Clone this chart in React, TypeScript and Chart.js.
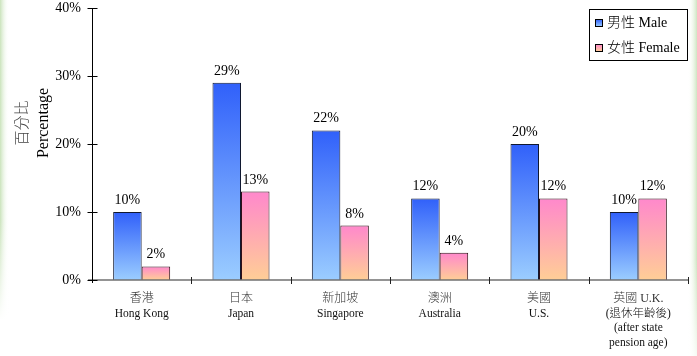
import React, { useEffect, useRef } from "react";
import { Chart, registerables } from "chart.js";

Chart.register(...registerables);

// Category labels: Chinese name first, then English lines
const categoryLabels: string[][] = [
  ["香港", "Hong Kong"],
  ["日本", "Japan"],
  ["新加坡", "Singapore"],
  ["澳洲", "Australia"],
  ["美國", "U.S."],
  ["英國 U.K.", "(退休年齡後)", "(after state", "pension age)"],
];
const maleValues = [10, 29, 22, 12, 20, 10];
const femaleValues = [2, 13, 8, 4, 12, 12];
const yTickValues = [0, 10, 20, 30, 40];
const seriesNames = ["男性 Male", "女性 Female"];
const yTitleZh = "百分比";
const yTitleEn = "Percentage";

const FONT = "'Liberation Serif', 'Times New Roman', 'Noto Sans CJK TC', serif";
const CJK = "'Noto Sans CJK TC', 'Noto Sans CJK SC', sans-serif";

const BLUE_TOP = "rgb(48,96,250)";
const BLUE_BOTTOM = "rgb(155,205,255)";
const PINK_TOP = "rgb(255,136,204)";
const PINK_BOTTOM = "rgb(255,206,150)";

function barGradient(top: string, bottom: string) {
  return (ctx: any) => {
    const chart = ctx.chart;
    const ys = chart.scales?.y;
    if (!chart.chartArea || !ys || ctx.type !== "data") return top;
    const y0 = ys.getPixelForValue(ctx.raw);
    const y1 = ys.getPixelForValue(0);
    const g = chart.ctx.createLinearGradient(0, y0, 0, y1 + 0.01);
    g.addColorStop(0, top);
    g.addColorStop(1, bottom);
    return g;
  };
}

// Page background with soft green edges
const backgroundPlugin = {
  id: "pageBackground",
  beforeDraw(chart: any) {
    const { ctx, width, height } = chart;
    ctx.save();
    ctx.fillStyle = "#ffffff";
    ctx.fillRect(0, 0, width, height);
    const left = ctx.createLinearGradient(0, 0, 9, 0);
    left.addColorStop(0, "rgba(196,224,180,0.9)");
    left.addColorStop(1, "rgba(255,255,255,0)");
    ctx.fillStyle = left;
    ctx.fillRect(0, 0, 9, height);
    const right = ctx.createLinearGradient(width, 0, width - 9, 0);
    right.addColorStop(0, "rgba(200,226,186,0.9)");
    right.addColorStop(1, "rgba(255,255,255,0)");
    ctx.fillStyle = right;
    ctx.fillRect(width - 9, 0, 9, height);
    const fadeL = ctx.createLinearGradient(0, 220, 0, 320);
    fadeL.addColorStop(0, "rgba(255,255,255,0)");
    fadeL.addColorStop(1, "rgba(255,255,255,1)");
    ctx.fillStyle = fadeL;
    ctx.fillRect(0, 220, 9, height - 220);
    const fadeR = ctx.createLinearGradient(0, 260, 0, 356);
    fadeR.addColorStop(0, "rgba(255,255,255,0)");
    fadeR.addColorStop(1, "rgba(255,255,255,0.8)");
    ctx.fillStyle = fadeR;
    ctx.fillRect(width - 9, 260, 9, height - 260);
    ctx.restore();
  },
};

// Axis lines, crossing tick marks, category labels, value labels, titles and legend
const decorPlugin = {
  id: "decor",
  afterDraw(chart: any) {
    const { ctx, chartArea: a } = chart;
    const xs = chart.scales.x;
    const ys = chart.scales.y;
    ctx.save();

    // x axis
    ctx.strokeStyle = "#707070";
    ctx.lineWidth = 1.5;
    ctx.beginPath();
    ctx.moveTo(a.left - 4, a.bottom);
    ctx.lineTo(a.right, a.bottom);
    ctx.stroke();
    ctx.strokeStyle = "#222";
    ctx.lineWidth = 1;
    for (let i = 1; i <= categoryLabels.length; i++) {
      const x = Math.round(xs.getPixelForValue(i - 0.5)) + 0.5;
      ctx.beginPath();
      ctx.moveTo(x, a.bottom - 3);
      ctx.lineTo(x, a.bottom + 4);
      ctx.stroke();
    }

    // y axis
    ctx.strokeStyle = "#000";
    ctx.lineWidth = 1;
    const ax = Math.round(a.left) + 0.5;
    ctx.beginPath();
    ctx.moveTo(ax, a.top);
    ctx.lineTo(ax, a.bottom + 3);
    ctx.stroke();
    for (const v of yTickValues) {
      const y = Math.round(ys.getPixelForValue(v)) + 0.5;
      ctx.beginPath();
      ctx.moveTo(ax - 5, y);
      ctx.lineTo(ax + 5, y);
      ctx.stroke();
    }

    // category labels
    ctx.textAlign = "center";
    ctx.textBaseline = "middle";
    categoryLabels.forEach((lines, i) => {
      const x = xs.getPixelForValue(i);
      lines.forEach((line, j) => {
        ctx.font = j === 0 ? `300 12px ${FONT}` : `300 11.5px ${FONT}`;
        ctx.fillStyle = j === 0 ? "#333" : "#111";
        ctx.fillText(line, x, a.bottom + 19 + j * 14.7);
      });
    });

    // value labels
    ctx.font = `14px ${FONT}`;
    ctx.fillStyle = "#000";
    ctx.textBaseline = "alphabetic";
    chart.data.datasets.forEach((ds: any, di: number) => {
      const meta = chart.getDatasetMeta(di);
      meta.data.forEach((bar: any, i: number) => {
        ctx.fillText(`${ds.data[i]}%`, bar.x, bar.y - 8);
      });
    });

    // y axis title (two rotated lines)
    ctx.save();
    ctx.translate(21, 123);
    ctx.rotate(-Math.PI / 2);
    ctx.textBaseline = "middle";
    ctx.font = `300 15px ${CJK}`;
    ctx.fillStyle = "#444";
    ctx.fillText(yTitleZh, 0, 0);
    ctx.restore();
    ctx.save();
    ctx.translate(44, 123);
    ctx.rotate(-Math.PI / 2);
    ctx.textBaseline = "middle";
    ctx.font = `16px ${FONT}`;
    ctx.fillStyle = "#000";
    ctx.fillText(yTitleEn, 0, 0);
    ctx.restore();

    // legend box
    const lx = 589.5, ly = 9.5, lw = 98, lh = 51;
    ctx.fillStyle = "#fff";
    ctx.fillRect(lx, ly, lw, lh);
    ctx.strokeStyle = "#000";
    ctx.lineWidth = 1;
    ctx.strokeRect(lx, ly, lw, lh);
    const swatches = [
      [BLUE_TOP, BLUE_BOTTOM],
      [PINK_TOP, PINK_BOTTOM],
    ];
    seriesNames.forEach((name, i) => {
      const cy = 23 + i * 25;
      const sx = 595.5, sy = cy - 3.5, s = 7;
      const g = ctx.createLinearGradient(0, sy, 0, sy + s);
      g.addColorStop(0, swatches[i][0]);
      g.addColorStop(1, swatches[i][1]);
      ctx.fillStyle = g;
      ctx.fillRect(sx, sy, s, s);
      ctx.strokeRect(sx, sy, s, s);
      ctx.fillStyle = "#000";
      ctx.font = `300 14px ${FONT}`;
      ctx.textAlign = "left";
      ctx.textBaseline = "middle";
      ctx.fillText(name, 607, cy);
    });

    ctx.restore();
  },
};

export default function App() {
  const ref = useRef<HTMLCanvasElement | null>(null);

  useEffect(() => {
    document.body.style.margin = "0";
    const canvas = ref.current;
    if (!canvas) return;
    const chart = new Chart(canvas, {
      type: "bar",
      data: {
        labels: categoryLabels.map((l) => l.join(" ")),
        datasets: [
          {
            label: seriesNames[0],
            data: maleValues,
            backgroundColor: barGradient(BLUE_TOP, BLUE_BOTTOM),
            borderColor: "#101830",
            borderWidth: 1,
            categoryPercentage: 0.574,
            barPercentage: 1,
          },
          {
            label: seriesNames[1],
            data: femaleValues,
            backgroundColor: barGradient(PINK_TOP, PINK_BOTTOM),
            borderColor: "#301018",
            borderWidth: 1,
            categoryPercentage: 0.574,
            barPercentage: 1,
          },
        ],
      },
      options: {
        responsive: false,
        animation: false,
        layout: { padding: { top: 8, right: 9, left: 0, bottom: 0 } },
        plugins: {
          legend: { display: false },
          tooltip: { enabled: false },
        },
        scales: {
          x: {
            grid: { display: false, drawTicks: false },
            border: { display: false },
            ticks: { display: false },
            afterFit: (scale: any) => {
              scale.height = 76;
              scale.paddingLeft = 0;
              scale.paddingRight = 0;
            },
          },
          y: {
            min: 0,
            max: 40,
            grid: { display: false, drawTicks: false },
            border: { display: false },
            ticks: {
              stepSize: 10,
              padding: 11,
              color: "#000",
              font: { family: FONT, size: 14 },
              callback: (v: any) => `${v}%`,
            },
            afterFit: (scale: any) => {
              scale.width = 92;
              scale.paddingTop = 0;
              scale.paddingBottom = 0;
            },
          },
        },
      },
      plugins: [backgroundPlugin, decorPlugin],
    });
    return () => chart.destroy();
  }, []);

  return (
    <div style={{ width: 697, height: 356 }}>
      <canvas ref={ref} width={697} height={356} style={{ display: "block" }} />
    </div>
  );
}
